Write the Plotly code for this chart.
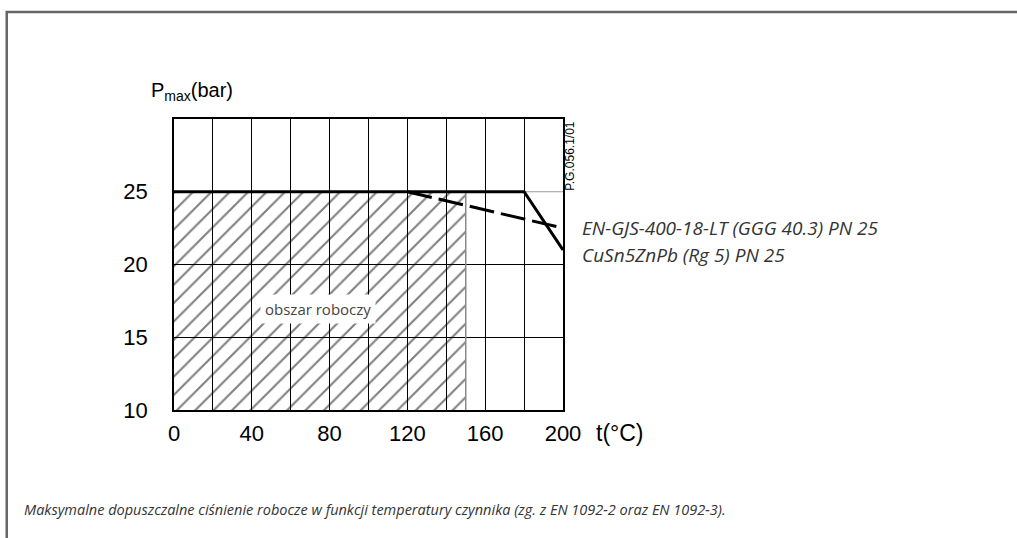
import plotly.graph_objects as go

# ---- data ----
x_ticks = [0, 40, 80, 120, 160, 200]
y_ticks = [10, 15, 20, 25]
y_grid = [15, 20]
x_range = [0, 200]
y_range = [10, 30]

cu_t = [0, 180, 200]          # CuSn5ZnPb (Rg 5) PN 25  (solid)
cu_p = [25, 25, 21]
gjs_t = [120, 200]            # EN-GJS-400-18-LT (GGG 40.3) PN 25 (dashed)
gjs_p = [25, 22.5]

work_t = [0, 150, 150, 0, 0]  # obszar roboczy (hatched area)
work_p = [10, 10, 25, 25, 10]

label_gjs = "EN-GJS-400-18-LT (GGG 40.3) PN 25"
label_cu = "CuSn5ZnPb (Rg 5) PN 25"
caption = ("Maksymalne dopuszczalne ciśnienie robocze w funkcji temperatury czynnika "
           "(zg. z EN 1092-2 oraz EN 1092-3).")

fig = go.Figure()

fig.add_trace(go.Scatter(
    x=work_t, y=work_p, mode="lines", fill="toself",
    fillcolor="rgba(0,0,0,0)",
    fillpattern=dict(shape="/", size=13, solidity=0.16,
                     fgcolor="black", bgcolor="rgba(0,0,0,0)"),
    line=dict(width=0), hoverinfo="skip", showlegend=False))

fig.add_trace(go.Scatter(
    x=[150, 150], y=[10, 25], mode="lines",
    line=dict(color="#8a8a8a", width=1.5), hoverinfo="skip", showlegend=False))

fig.add_trace(go.Scatter(
    x=[180, 200], y=[25, 25], mode="lines",
    line=dict(color="#9a9a9a", width=1.2), hoverinfo="skip", showlegend=False))

fig.add_trace(go.Scatter(
    x=gjs_t, y=gjs_p, mode="lines",
    line=dict(color="black", width=3, dash="25px,7px"),
    showlegend=False, name=label_gjs))

fig.add_trace(go.Scatter(
    x=cu_t, y=cu_p, mode="lines",
    line=dict(color="black", width=3),
    showlegend=False, name=label_cu))

tick_font = dict(family="Liberation Sans, Arial, sans-serif", size=22, color="black")

fig.update_xaxes(
    range=x_range, tickvals=x_ticks, ticks="", ticklabelstandoff=3,
    tickfont=tick_font,
    showgrid=True, gridcolor="black", gridwidth=1,
    minor=dict(dtick=20, showgrid=True, gridcolor="black", gridwidth=1),
    showline=True, linecolor="black", linewidth=1.5, mirror=True, zeroline=False)

fig.update_yaxes(
    range=y_range, tickvals=y_ticks, ticks="", ticklabelstandoff=20,
    tickfont=tick_font, showgrid=False,
    minor=dict(tickvals=y_grid, showgrid=True, gridcolor="black", gridwidth=1),
    showline=True, linecolor="black", linewidth=1.5, mirror=True, zeroline=False)

italic_font = dict(family="Open Sans, Noto Sans, sans-serif", size=19, color="#333333")

annotations = [
    dict(x=-0.065, y=1.095, xref="paper", yref="paper", text="P<sub>max</sub>(bar)",
         showarrow=False, xanchor="left", yanchor="middle",
         font=dict(family="Liberation Sans, Arial, sans-serif", size=20, color="black")),
    dict(x=1.08, y=-0.078, xref="paper", yref="paper", text="t(°C)",
         showarrow=False, xanchor="left", yanchor="middle",
         font=dict(family="Liberation Sans, Arial, sans-serif", size=23, color="black")),
    dict(x=1.0172, y=0.8729, xref="paper", yref="paper", text="P.G.056.1/01",
         textangle=-90, showarrow=False, xanchor="center", yanchor="middle",
         font=dict(family="Liberation Sans, Arial, sans-serif", size=12, color="black")),
    dict(x=1.043, y=0.6254, xref="paper", yref="paper", text="<i>" + label_gjs + "</i>",
         showarrow=False, xanchor="left", yanchor="middle", font=italic_font),
    dict(x=1.043, y=0.5326, xref="paper", yref="paper", text="<i>" + label_cu + "</i>",
         showarrow=False, xanchor="left", yanchor="middle", font=italic_font),
    dict(x=0.37, y=0.347, xref="paper", yref="paper", text="obszar roboczy",
         showarrow=False, xanchor="center", yanchor="middle",
         bgcolor="white", borderpad=4,
         font=dict(family="Open Sans, Noto Sans, sans-serif", size=15, color="#444444")),
    dict(x=-0.3915, y=-0.3436, xref="paper", yref="paper", text="<i>" + caption + "</i>",
         showarrow=False, xanchor="left", yanchor="middle",
         font=dict(family="Open Sans, Noto Sans, sans-serif", size=14.5, color="#333333")),
]

fig.update_layout(
    width=1017, height=538,
    margin=dict(l=174, r=454, t=119, b=128),
    paper_bgcolor="white", plot_bgcolor="white",
    annotations=annotations,
    shapes=[dict(type="path", xref="paper", yref="paper",
                 path="M -0.43,-0.46 L -0.43,1.3677 L 2.2,1.3677",
                 line=dict(color="#666666", width=2.5))],
    showlegend=False,
)

fig.write_html("out.html",
               config={"displayModeBar": False},
               post_script="document.body.style.margin='0px';"
                           "document.body.style.overflow='hidden';")
